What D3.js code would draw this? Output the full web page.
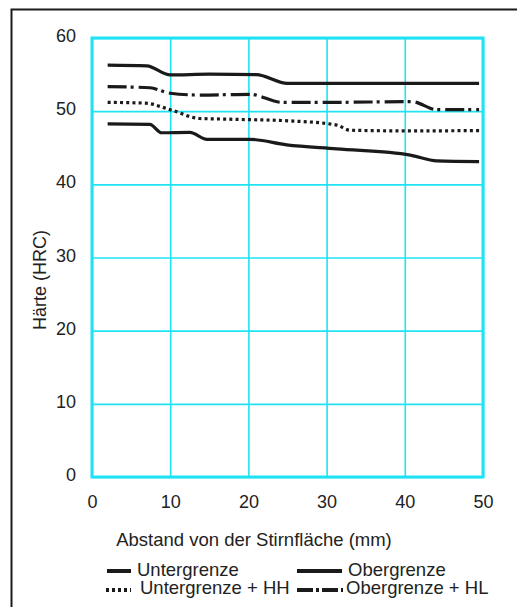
<!DOCTYPE html>
<html>
<head>
<meta charset="utf-8">
<script src="https://cdn.jsdelivr.net/npm/d3@7"></script>
<style>
  html, body { margin: 0; padding: 0; background: #fff; }
  svg { display: block; }
  text { font-family: "Liberation Sans", Arial, Helvetica, sans-serif; fill: #222; }
</style>
</head>
<body>
<script>
// ---- data ----
const xTicks = [0, 10, 20, 30, 40, 50];
const yTicks = [0, 10, 20, 30, 40, 50, 60];

const obergrenzeX = [2, 7, 10, 15, 21, 25, 30, 40, 49.5];
const obergrenzeY = [56.3, 56.2, 54.95, 55.05, 55.0, 53.8, 53.8, 53.8, 53.8];

const obergrenzeHLX = [2, 7.4, 10, 13.8, 20.2, 24.3, 30, 40.9, 44.1, 49.5];
const obergrenzeHLY = [53.35, 53.2, 52.45, 52.2, 52.3, 51.2, 51.2, 51.3, 50.2, 50.2];

const untergrenzeHHX = [2, 6.8, 10, 13.8, 17.6, 25.7, 31.3, 33, 40.7, 49.5];
const untergrenzeHHY = [51.2, 51.1, 50.2, 49.0, 48.9, 48.65, 48.1, 47.4, 47.3, 47.35];

const untergrenzeX = [2, 7.4, 8.9, 12.5, 14.7, 20.2, 24.9, 31.3, 40.7, 44.1, 49.5];
const untergrenzeY = [48.25, 48.2, 47.05, 47.1, 46.15, 46.15, 45.4, 44.85, 44.0, 43.2, 43.1];

const seriesNames = ["Untergrenze", "Obergrenze", "Untergrenze + HH", "Obergrenze + HL"];

// ---- layout ----
const W = 517, H = 607;
const plot = { left: 92, right: 483, top: 38, bottom: 477 };
const cyan = "#1fe3f5";

const svg = d3.select("body").append("svg").attr("width", W).attr("height", H);

// outer frame
svg.append("rect").attr("x", 11.5).attr("y", 9.5).attr("width", 530).attr("height", 620)
  .attr("fill", "none").attr("stroke", "#1a1a1a").attr("stroke-width", 2);

const x = d3.scaleLinear().domain([0, 50]).range([plot.left, plot.right]);
const y = d3.scaleLinear().domain([0, 60]).range([plot.bottom, plot.top]);

// grid
const gx = svg.append("g").attr("transform", `translate(0,${plot.bottom})`)
  .call(d3.axisBottom(x).tickValues(xTicks).tickSize(-(plot.bottom - plot.top)).tickFormat(""));
gx.select(".domain").remove();
gx.selectAll("line").attr("stroke", cyan).attr("stroke-width", 1.6);

const gy = svg.append("g").attr("transform", `translate(${plot.left},0)`)
  .call(d3.axisLeft(y).tickValues(yTicks).tickSize(-(plot.right - plot.left)).tickFormat(""));
gy.select(".domain").remove();
gy.selectAll("line").attr("stroke", cyan).attr("stroke-width", 1.6);

// plot border
svg.append("rect").attr("x", plot.left).attr("y", plot.top)
  .attr("width", plot.right - plot.left).attr("height", plot.bottom - plot.top)
  .attr("fill", "none").attr("stroke", cyan).attr("stroke-width", 3);

// tick labels
const lx = svg.append("g").attr("transform", `translate(0,${plot.bottom + 31})`)
  .call(d3.axisBottom(x).tickValues(xTicks).tickSize(0).tickPadding(0));
lx.select(".domain").remove();
lx.selectAll("text").attr("font-size", 18).attr("dy", 0).attr("fill", "#222")
  .style("font-family", '"Liberation Sans", Arial, sans-serif');

const ly = svg.append("g").attr("transform", `translate(76,0)`)
  .call(d3.axisLeft(y).tickValues(yTicks).tickSize(0).tickPadding(0));
ly.select(".domain").remove();
ly.selectAll("text").attr("font-size", 18).attr("dy", "0.2em").attr("fill", "#222")
  .style("font-family", '"Liberation Sans", Arial, sans-serif');

// axis titles
svg.append("text").attr("x", 254).attr("y", 546).attr("text-anchor", "middle")
  .attr("font-size", 18.5).text("Abstand von der Stirnfläche (mm)");
svg.append("text").attr("transform", "translate(46,280) rotate(-90)").attr("text-anchor", "middle")
  .attr("font-size", 18).text("Härte (HRC)");

// lines
const styles = {
  "Untergrenze": { dash: null },
  "Obergrenze": { dash: null },
  "Untergrenze + HH": { dash: "3,3.2" },
  "Obergrenze + HL": { dash: "19,4,3,5" }
};
const seriesData = [
  { name: "Untergrenze", xs: untergrenzeX, ys: untergrenzeY },
  { name: "Obergrenze", xs: obergrenzeX, ys: obergrenzeY },
  { name: "Untergrenze + HH", xs: untergrenzeHHX, ys: untergrenzeHHY },
  { name: "Obergrenze + HL", xs: obergrenzeHLX, ys: obergrenzeHLY }
];
const line = d3.line().x(d => x(d[0])).y(d => y(d[1])).curve(d3.curveMonotoneX);
seriesData.forEach(s => {
  svg.append("path")
    .datum(s.xs.map((v, i) => [v, s.ys[i]]))
    .attr("d", line)
    .attr("fill", "none").attr("stroke", "#1a1a1a").attr("stroke-width", 3.2)
    .attr("stroke-dasharray", styles[s.name].dash);
});

// legend
const legendPos = [
  { x0: 107, x1: 131, ly: 571, tx: 137, ty: 576 },
  { x0: 297, x1: 342, ly: 571, tx: 348, ty: 576 },
  { x0: 106, x1: 131, ly: 590, tx: 140, ty: 594 },
  { x0: 297, x1: 343, ly: 590, tx: 346, ty: 594 }
];
const legendDash = ["", "", "3,3", "16,3,3,3"];
seriesNames.forEach((n, i) => {
  const p = legendPos[i];
  svg.append("line").attr("x1", p.x0).attr("x2", p.x1).attr("y1", p.ly).attr("y2", p.ly)
    .attr("stroke", "#1a1a1a").attr("stroke-width", 4)
    .attr("stroke-dasharray", legendDash[i] || null);
  svg.append("text").attr("x", p.tx).attr("y", p.ty).attr("font-size", 18.5).text(n);
});
</script>
</body>
</html>
